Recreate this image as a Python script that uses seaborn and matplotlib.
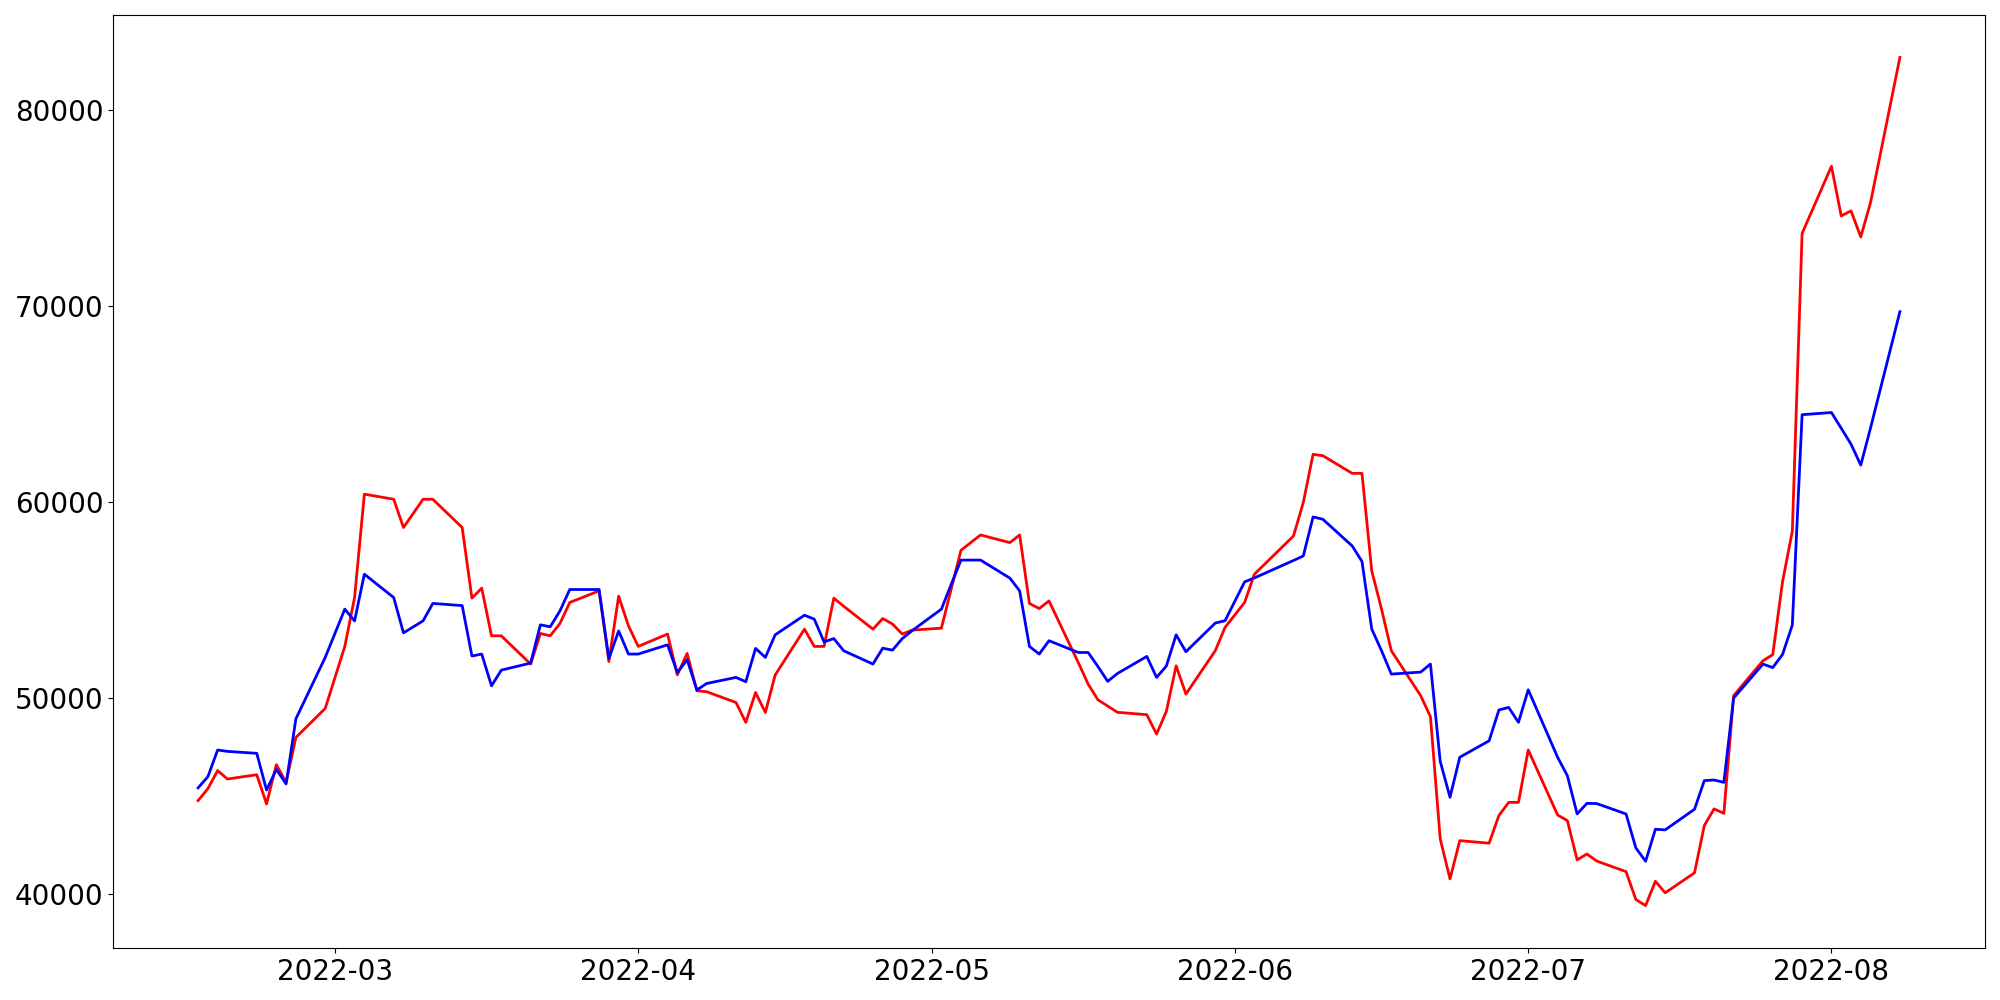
import pandas as pd
import seaborn as sns
import matplotlib
matplotlib.use("Agg")
import matplotlib.pyplot as plt

dates = [
    "2022-02-15", "2022-02-16", "2022-02-17", "2022-02-18", "2022-02-21", "2022-02-22",
    "2022-02-23", "2022-02-24", "2022-02-25", "2022-02-28", "2022-03-02", "2022-03-03",
    "2022-03-04", "2022-03-07", "2022-03-08", "2022-03-10", "2022-03-11", "2022-03-14",
    "2022-03-15", "2022-03-16", "2022-03-17", "2022-03-18", "2022-03-21", "2022-03-22",
    "2022-03-23", "2022-03-24", "2022-03-25", "2022-03-28", "2022-03-29", "2022-03-30",
    "2022-03-31", "2022-04-01", "2022-04-04", "2022-04-05", "2022-04-06", "2022-04-07",
    "2022-04-08", "2022-04-11", "2022-04-12", "2022-04-13", "2022-04-14", "2022-04-15",
    "2022-04-18", "2022-04-19", "2022-04-20", "2022-04-21", "2022-04-22", "2022-04-25",
    "2022-04-26", "2022-04-27", "2022-04-28", "2022-04-29", "2022-05-02", "2022-05-03",
    "2022-05-04", "2022-05-06", "2022-05-09", "2022-05-10", "2022-05-11", "2022-05-12",
    "2022-05-13", "2022-05-16", "2022-05-17", "2022-05-18", "2022-05-19", "2022-05-20",
    "2022-05-23", "2022-05-24", "2022-05-25", "2022-05-26", "2022-05-27", "2022-05-30",
    "2022-05-31", "2022-06-02", "2022-06-03", "2022-06-07", "2022-06-08", "2022-06-09",
    "2022-06-10", "2022-06-13", "2022-06-14", "2022-06-15", "2022-06-16", "2022-06-17",
    "2022-06-20", "2022-06-21", "2022-06-22", "2022-06-23", "2022-06-24", "2022-06-27",
    "2022-06-28", "2022-06-29", "2022-06-30", "2022-07-01", "2022-07-04", "2022-07-05",
    "2022-07-06", "2022-07-07", "2022-07-08", "2022-07-11", "2022-07-12", "2022-07-13",
    "2022-07-14", "2022-07-15", "2022-07-18", "2022-07-19", "2022-07-20", "2022-07-21",
    "2022-07-22", "2022-07-25", "2022-07-26", "2022-07-27", "2022-07-28", "2022-07-29",
    "2022-08-01", "2022-08-02", "2022-08-03", "2022-08-04", "2022-08-05", "2022-08-08",
]

# red line
red_values = [
    44780, 45390, 46310, 45880, 46100, 44610, 46610, 45710, 48000, 49480, 52640, 55130,
    60400, 60140, 58700, 60140, 60140, 58700, 55100, 55610, 53180, 53180, 51740, 53300,
    53180, 53810, 54880, 55470, 51870, 55200, 53690, 52640, 53270, 51190, 52280, 50380,
    50330, 49780, 48770, 50290, 49270, 51180, 53520, 52640, 52640, 55100, 54690, 53520,
    54060, 53780, 53270, 53470, 53570, 55560, 57540, 58320, 57930, 58320, 54830, 54570,
    54960, 51810, 50720, 49920, 49600, 49280, 49160, 48170, 49330, 51650, 50210, 52420,
    53610, 54880, 56320, 58270, 59970, 62430, 62360, 61460, 61460, 56490, 54540, 52420,
    50130, 49060, 42830, 40790, 42740, 42610, 44020, 44690, 44690, 47360, 44050, 43760,
    41760, 42060, 41700, 41160, 39740, 39430, 40670, 40080, 41100, 43510, 44360, 44130,
    50130, 51910, 52220, 55940, 58510, 73690, 77110, 74580, 74840, 73510, 75270, 82660,
]

# blue line
blue_values = [
    45430, 46000, 47360, 47290, 47190, 45320, 46370, 45630, 48950, 52080, 54540, 53940,
    56320, 55130, 53330, 53940, 54830, 54720, 52150, 52250, 50630, 51430, 51790, 53740,
    53640, 54450, 55540, 55540, 52020, 53430, 52250, 52250, 52720, 51310, 51960, 50420,
    50750, 51060, 50840, 52540, 52080, 53230, 54230, 54030, 52870, 53040, 52420, 51740,
    52550, 52450, 53040, 53440, 54540, 55800, 57040, 57040, 56120, 55470, 52640, 52250,
    52930, 52330, 52330, 51620, 50860, 51260, 52130, 51060, 51640, 53230, 52370, 53830,
    53950, 55930, 56130, 57020, 57250, 59240, 59120, 57760, 56970, 53520, 52420, 51230,
    51330, 51740, 46780, 44950, 46990, 47830, 49400, 49530, 48770, 50430, 46990, 46050,
    44100, 44640, 44630, 44100, 42370, 41690, 43320, 43290, 44340, 45800, 45830, 45710,
    50010, 51740, 51560, 52230, 53730, 64450, 64560, 63760, 62950, 61880, 63780, 69700,
]

series_names = ["red", "blue"]

df = pd.concat([
    pd.DataFrame({"date": pd.to_datetime(dates), "value": red_values, "series": series_names[0]}),
    pd.DataFrame({"date": pd.to_datetime(dates), "value": blue_values, "series": series_names[1]}),
])

fig, ax = plt.subplots(figsize=(20, 10), dpi=100)
sns.lineplot(data=df, x="date", y="value", hue="series", hue_order=series_names,
             palette={"red": "red", "blue": "blue"}, linewidth=2, legend=False, ax=ax)

ax.set_xlabel("")
ax.set_ylabel("")
ax.tick_params(axis="both", labelsize=20)

plt.subplots_adjust(left=0.0565, right=0.9925, top=0.985, bottom=0.052)
plt.savefig("out.png")
plt.close()
